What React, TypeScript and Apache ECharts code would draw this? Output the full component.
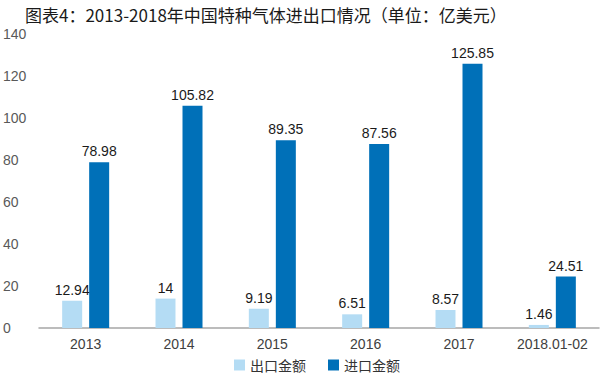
import React, { useEffect, useRef } from "react";
import * as echarts from "echarts";

const categories = ["2013", "2014", "2015", "2016", "2017", "2018.01-02"];
const exportValues = [12.94, 14, 9.19, 6.51, 8.57, 1.46];
const importValues = [78.98, 105.82, 89.35, 87.56, 125.85, 24.51];
const yTicks = { min: 0, max: 140, interval: 20 };

export default function App() {
  const ref = useRef<HTMLDivElement>(null);
  useEffect(() => {
    document.body.style.margin = "0";
    const chart = echarts.init(ref.current!, null, { renderer: "svg" });
    const font = "'Noto Sans CJK SC', 'Noto Sans', sans-serif";
    const latin = "'Liberation Sans', sans-serif";
    chart.setOption({
      animation: false,
      backgroundColor: "#ffffff",
      title: {
        text: "图表4：2013-2018年中国特种气体进出口情况（单位：亿美元）",
        left: 20,
        top: 1,
        textStyle: { fontSize: 17, fontWeight: "normal", color: "#1a1a1a", fontFamily: font },
      },
      legend: {
        bottom: 2,
        left: 229,
        itemWidth: 11,
        itemHeight: 11,
        itemGap: 22,
        icon: "rect",
        textStyle: { fontSize: 14, color: "#333", fontFamily: font },
        data: ["出口金额", "进口金额"],
      },
      grid: { left: 37, right: 1, top: 34, bottom: 51, containLabel: false },
      xAxis: {
        type: "category",
        data: categories,
        axisLine: { lineStyle: { color: "#a6a6a6", width: 1.5 } },
        axisTick: { show: false },
        axisLabel: { fontSize: 14, color: "#404040", margin: 9, fontFamily: latin },
      },
      yAxis: {
        type: "value",
        min: yTicks.min,
        max: yTicks.max,
        interval: yTicks.interval,
        splitLine: { show: false },
        axisLine: { show: false },
        axisTick: { show: false },
        axisLabel: {
          fontSize: 14,
          color: "#595959",
          align: "left",
          margin: 36,
          fontFamily: latin,
        },
      },
      series: [
        {
          name: "出口金额",
          type: "bar",
          data: exportValues,
          barWidth: 20,
          barGap: "35%",
          itemStyle: { color: "#b4dcf4" },
          label: {
            show: true,
            position: "top",
            distance: 4,
            fontSize: 14,
            color: "#1a1a1a",
            fontFamily: latin,
          },
        },
        {
          name: "进口金额",
          type: "bar",
          data: importValues,
          barWidth: 20,
          itemStyle: { color: "#0070b8" },
          label: {
            show: true,
            position: "top",
            distance: 4,
            fontSize: 14,
            color: "#1a1a1a",
            fontFamily: latin,
          },
        },
      ],
    });
    return () => chart.dispose();
  }, []);
  return <div ref={ref} style={{ position: "fixed", left: 0, top: 0, width: 600, height: 379 }} />;
}
